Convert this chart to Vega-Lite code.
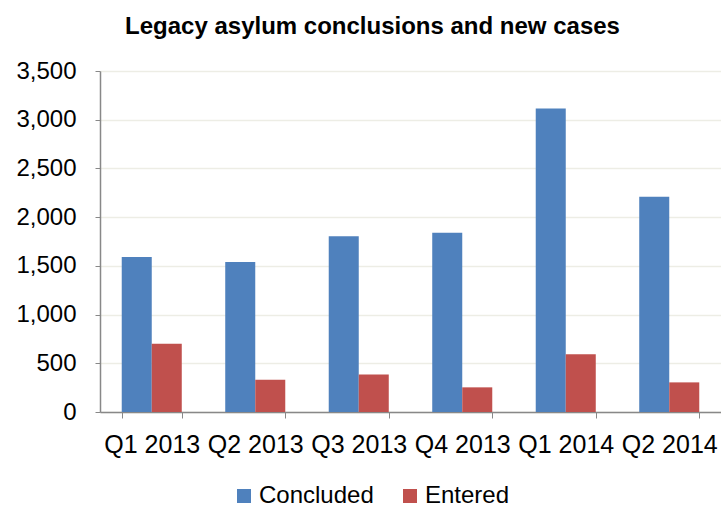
{
  "$schema": "https://vega.github.io/schema/vega-lite/v6.json",
  "autosize": {"type": "none"},
  "width": 621,
  "height": 341,
  "padding": {"left": 100, "top": 71, "right": 0, "bottom": 96},
  "background": "white",
  "title": {
    "text": "Legacy asylum conclusions and new cases",
    "font": "Liberation Sans",
    "fontSize": 24,
    "fontWeight": "bold",
    "color": "black",
    "anchor": "middle",
    "dx": -38,
    "offset": 20
  },
  "data": {
    "values": [
      {"quarter": "Q1 2013", "series": "Concluded", "value": 1591},
      {"quarter": "Q1 2013", "series": "Entered", "value": 700},
      {"quarter": "Q2 2013", "series": "Concluded", "value": 1540},
      {"quarter": "Q2 2013", "series": "Entered", "value": 331},
      {"quarter": "Q3 2013", "series": "Concluded", "value": 1803},
      {"quarter": "Q3 2013", "series": "Entered", "value": 386},
      {"quarter": "Q4 2013", "series": "Concluded", "value": 1840},
      {"quarter": "Q4 2013", "series": "Entered", "value": 253},
      {"quarter": "Q1 2014", "series": "Concluded", "value": 3114},
      {"quarter": "Q1 2014", "series": "Entered", "value": 594},
      {"quarter": "Q2 2014", "series": "Concluded", "value": 2209},
      {"quarter": "Q2 2014", "series": "Entered", "value": 304}
    ]
  },
  "mark": {"type": "bar"},
  "encoding": {
    "x": {
      "field": "quarter",
      "type": "nominal",
      "sort": null,
      "scale": {"paddingInner": 0.42, "paddingOuter": 0.21},
      "axis": {
        "title": null,
        "labelAngle": 0,
        "labelFont": "Liberation Sans",
        "labelFontSize": 25,
        "labelColor": "black",
        "labelPadding": 14,
        "domainColor": "#888888",
        "tickColor": "#888888",
        "tickBand": "extent",
        "tickSize": 6,
        "labelOverlap": false,
        "labelBound": false,
        "grid": false
      }
    },
    "xOffset": {"field": "series", "type": "nominal", "sort": ["Concluded", "Entered"]},
    "y": {
      "field": "value",
      "type": "quantitative",
      "scale": {"domain": [0, 3500]},
      "axis": {
        "title": null,
        "values": [0, 500, 1000, 1500, 2000, 2500, 3000, 3500],
        "format": ",.0f",
        "labelFont": "Liberation Sans",
        "labelFontSize": 24,
        "labelColor": "black",
        "labelPadding": 19,
        "domain": true,
        "domainColor": "#888888",
        "tickColor": "#888888",
        "tickSize": 5,
        "gridColor": "#EDEDE5",
        "gridWidth": 1.5
      }
    },
    "color": {
      "field": "series",
      "type": "nominal",
      "sort": ["Concluded", "Entered"],
      "scale": {"domain": ["Concluded", "Entered"], "range": ["#4F81BD", "#C0504D"]},
      "legend": {
        "title": null,
        "orient": "none",
        "direction": "horizontal",
        "legendX": 132,
        "legendY": 413,
        "symbolType": "square",
        "symbolSize": 196,
        "symbolStrokeWidth": 0,
        "symbolOpacity": 1,
        "labelFont": "Liberation Sans",
        "labelFontSize": 24,
        "labelColor": "black",
        "labelOffset": 3,
        "columnPadding": 24
      }
    }
  },
  "config": {
    "view": {"stroke": null},
    "axis": {"domainWidth": 1.5}
  }
}
